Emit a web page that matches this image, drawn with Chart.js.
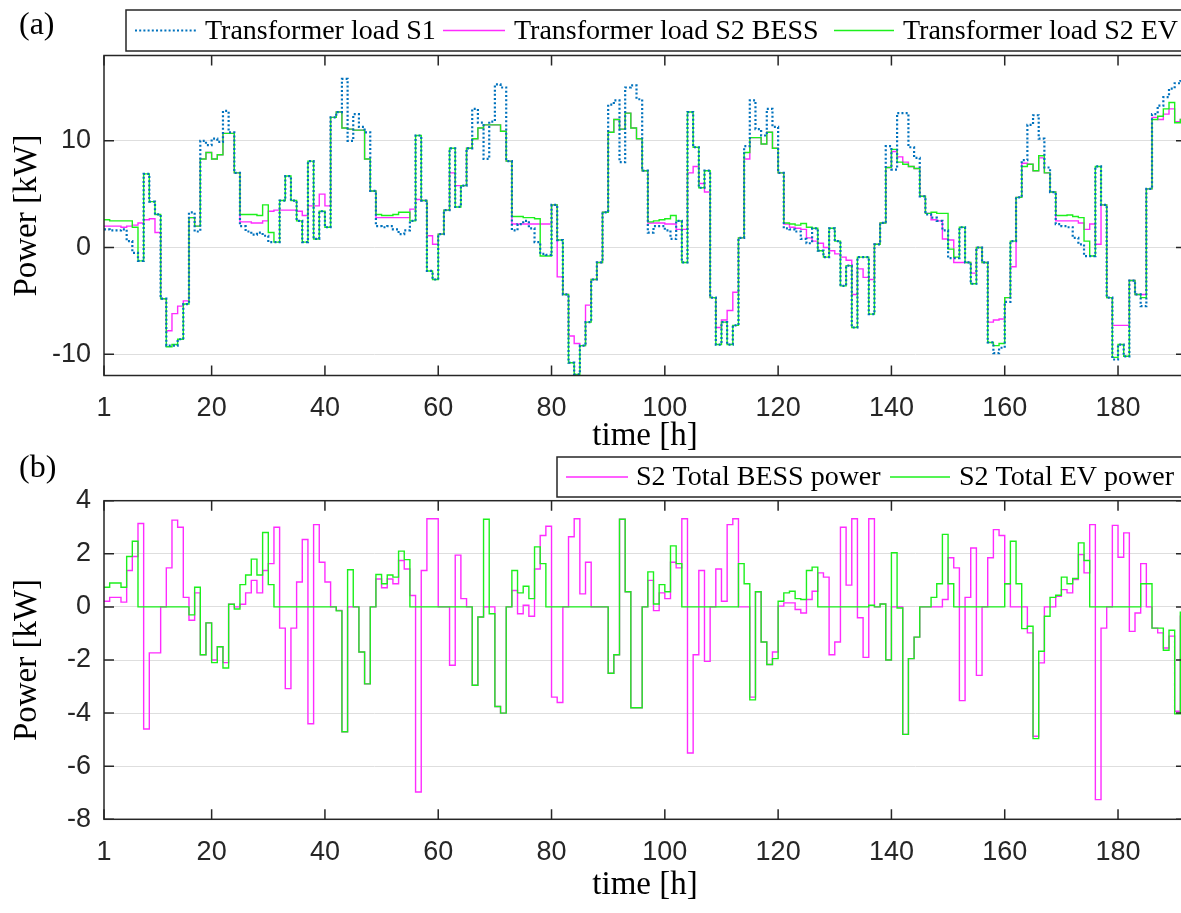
<!DOCTYPE html>
<html><head><meta charset="utf-8">
<script src="https://cdn.jsdelivr.net/npm/chart.js@4.4.1/dist/chart.umd.min.js"></script>
<style>
html,body{margin:0;padding:0;background:#fff;overflow:hidden;width:1181px;height:913px;}
#wa{position:absolute;left:0;top:0;width:1190px;height:456px;}
#wb{position:absolute;left:0;top:440px;width:1190px;height:473px;}
canvas{display:block;}
</style></head><body>
<div id="wa"><canvas id="ca" width="1190" height="456"></canvas></div>
<div id="wb"><canvas id="cb" width="1190" height="473"></canvas></div>
<script>
// ---------- data (hourly values, hour 1..192) ----------
const xTickValues = [1,20,40,60,80,100,120,140,160,180];
const yTicksA = [-10,0,10];
const yTicksB = [-8,-6,-4,-2,0,2,4];

const loadS1 = [
 1.7,1.6,1.6,1.7,0.6,-0.5,-1.25,6.9,4.3,3.1,
 -4.8,-9.2,-9.2,-8.6,-5.3,3.3,1.5,10.0,9.6,10.2,
 9.9,12.8,10.8,7.0,2.0,1.5,1.2,1.4,1.1,0.5,
 0.5,4.4,6.7,4.4,2.5,0.5,8.1,0.8,3.4,1.9,
 12.2,12.7,15.8,10.0,12.5,11.3,10.8,5.3,2.0,1.9,
 2.0,1.7,1.25,1.6,2.5,10.5,4.4,-2.2,-3.0,1.25,
 3.5,9.3,3.8,5.8,9.3,13.0,11.7,8.3,11.8,15.3,
 15.0,8.1,1.6,2.2,2.5,1.8,0.5,-0.6,-0.7,4.0,
 0.7,-4.4,-10.8,-11.9,-9.2,-7.0,-3.0,-1.4,3.3,13.4,
 13.8,8.0,15.0,15.2,13.9,7.2,1.4,2.0,2.0,1.6,
 0.8,2.5,-1.4,12.7,9.4,5.6,7.2,-4.7,-9.1,-7.0,
 -9.1,-7.3,0.9,9.5,13.8,11.1,10.5,13.0,11.3,7.0,
 1.8,1.7,1.5,0.8,0.4,1.8,-0.3,-0.9,1.8,0.6,
 -3.6,-1.7,-7.5,-0.9,-0.9,-6.25,0.3,2.3,9.5,7.3,
 12.6,12.6,9.4,8.4,4.8,3.1,2.8,2.5,1.6,-1.0,
 -1.0,1.9,-1.4,-3.4,0.0,-1.4,-8.9,-9.9,-9.4,-5.1,
 0.6,4.7,8.2,11.5,12.4,10.2,7.5,5.2,2.2,2.0,
 1.9,0.9,0.3,-0.8,-0.8,7.6,4.0,-4.7,-10.5,-9.1,
 -10.2,-3.1,-4.4,-5.5,5.5,12.5,13.3,14.1,14.9,15.4,
 15.6,15.6
];
const loadS2BESS = [
 2.0,2.0,2.0,1.9,2.0,2.1,2.3,2.6,2.7,1.4,
 -4.8,-7.8,-6.2,-5.5,-5.0,2.8,2.0,8.3,8.9,8.3,
 8.7,10.7,10.7,7.0,2.4,2.4,2.3,2.3,2.5,3.4,
 3.5,3.5,3.5,3.5,3.4,3.0,3.9,3.9,5.0,3.9,
 12.2,12.7,11.2,11.1,11.0,11.0,8.3,5.3,2.8,2.8,
 2.8,2.8,2.8,2.8,3.6,4.5,4.4,1.1,0.3,1.25,
 3.5,7.0,5.8,5.8,9.3,10.2,11.2,11.5,11.5,11.5,
 10.9,8.1,2.2,2.2,2.2,2.2,2.2,2.2,2.2,4.0,
 -2.75,-4.4,-8.3,-9.0,-9.2,-5.4,-3.0,-1.4,3.3,10.8,
 12.0,11.1,12.6,11.2,10.2,7.2,2.3,2.3,2.3,2.2,
 2.2,1.7,1.7,7.0,7.6,6.0,5.2,-4.7,-7.5,-6.8,
 -5.9,-4.2,0.9,8.3,10.3,10.3,9.7,10.8,9.3,7.0,
 2.2,1.9,1.8,1.7,0.9,0.6,0.4,0.0,-0.3,-0.6,
 -0.9,-1.2,-4.4,-2.0,-2.8,-3.0,0.3,2.3,7.5,9.0,
 8.5,8.0,7.6,7.4,4.8,3.2,2.6,2.5,0.8,0.7,
 -1.4,-1.4,-1.4,-2.4,0.0,-1.4,-7.0,-6.8,-6.7,-4.7,
 -1.8,4.7,7.9,7.8,7.2,8.4,7.0,5.2,2.5,2.5,
 2.5,2.5,2.3,1.7,2.2,0.3,4.0,-4.7,-7.3,-7.3,
 -7.3,-3.1,-4.4,-4.4,5.5,12.2,12.0,12.5,13.0,11.8,
 12.0,12.0
];
const loadS2EV = [
 2.6,2.5,2.5,2.5,2.5,1.9,-1.25,6.9,4.3,3.1,
 -4.8,-9.3,-9.1,-8.6,-5.3,2.8,2.0,8.3,8.9,8.3,
 8.7,10.7,10.7,7.0,3.1,3.1,3.1,3.0,4.0,1.4,
 0.5,4.4,6.7,4.4,2.5,0.5,8.1,0.8,3.4,1.9,
 12.2,12.7,11.2,11.1,11.0,11.0,8.3,5.3,3.1,3.0,
 3.0,3.1,3.3,3.3,2.5,10.5,4.4,-2.2,-3.0,1.25,
 3.5,9.3,3.8,5.8,9.3,10.2,11.2,11.5,11.5,11.5,
 10.9,8.1,2.9,2.9,2.8,2.8,2.7,-0.8,-0.8,4.0,
 0.7,-4.4,-10.8,-11.9,-9.2,-7.0,-3.0,-1.4,3.3,10.8,
 12.0,11.1,12.6,11.2,10.2,7.2,2.4,2.5,2.6,2.7,
 3.0,2.5,-1.4,12.7,9.4,5.6,7.2,-4.7,-9.1,-7.0,
 -9.1,-7.3,0.9,8.9,10.3,10.3,9.7,10.8,9.3,7.0,
 2.3,2.2,2.1,2.25,1.9,1.8,-0.3,-0.9,1.8,0.6,
 -3.6,-1.7,-7.5,-0.9,-0.9,-6.25,0.3,2.3,7.5,9.2,
 8.0,7.8,7.6,7.4,4.8,3.2,3.3,3.2,3.2,-0.15,
 -0.9,1.9,-1.4,-3.4,0.0,-1.4,-8.9,-9.2,-9.0,-4.7,
 0.6,4.7,7.6,7.8,7.2,8.6,7.0,5.2,3.0,3.0,
 3.05,2.9,2.8,0.6,-0.8,7.6,4.0,-4.7,-10.3,-9.1,
 -10.2,-3.1,-4.4,-4.7,5.5,12.0,12.3,13.0,13.6,11.7,
 12.0,12.0
];
const bessPower = [
 0.21,0.36,0.36,0.18,1.37,1.9,3.14,-4.6,-1.73,-1.73,
 0,1.47,3.27,3.0,0.36,-0.5,0.53,-1.8,-0.6,-2.0,
 -1.5,-2.1,0.1,0,0.1,0.53,1.0,0.53,1.37,1.63,
 3.0,-0.8,-3.08,-0.8,0.94,2.54,-4.4,3.1,1.68,0.94,
 0,-0.13,-4.7,0,0,-1.7,-2.9,0,1.05,0.72,
 1.05,0.87,1.75,1.43,0.43,-6.97,1.37,3.32,3.32,0,
 0,-2.2,1.95,0.31,0,-2.95,-0.38,0,0,-3.75,
 -4.0,0,0.62,-0.26,0.06,-0.35,1.43,2.69,3.04,-3.4,
 -3.6,0,2.64,3.32,0.49,1.68,0,0,0,-2.5,
 -1.8,3.3,0.57,-3.8,-3.8,0,1.0,-0.14,0.53,0.31,
 1.68,1.47,3.32,-5.5,-1.8,1.37,-2.05,0,1.43,0.21,
 3.1,3.32,0,0,-3.4,0.57,-1.32,-2.17,-1.7,0.03,
 0.15,0.15,-0.1,-0.23,0.28,0.59,1.28,1.12,-1.8,-1.32,
 3.0,0.82,3.32,-0.41,-1.9,3.32,0,0.11,-2.0,0,
 0,-4.8,-1.95,-1.14,0,0,0,0,0.28,1.85,
 1.47,-3.53,0.36,2.22,-2.58,0,1.85,2.91,2.69,0.87,
 0,0,0,-0.98,-4.87,-2.11,0,0,0.4,0.65,
 0.53,1.03,1.97,1.28,3.1,-7.26,-0.8,0,3.07,1.87,
 2.79,-0.92,-0.23,1.63,0,-0.8,-0.98,-1.55,-1.1,-3.93,
 -0.35,-0.35
];
const evPower = [
 0.74,0.9,0.9,0.74,1.9,2.47,0,0,0,0,
 0,0,0,0,0,-0.3,0.74,-1.8,-0.6,-2.1,
 -1.5,-2.3,0.1,-0.08,0.84,1.2,1.8,1.2,2.8,0.84,
 0,0,0,0,0,0,0,0,0,0,
 0,-0.15,-4.7,1.4,0,-1.7,-2.9,0,1.22,0.87,
 1.2,1.12,2.1,1.78,0,0,0,0,0,0,
 0,0,0,0,0,-2.95,-0.38,3.3,-0.26,-3.75,
 -4.0,0,1.37,0.53,0.78,0.31,2.26,1.63,0,0,
 0,0,0,0,0,0,0,0,0,-2.5,
 -1.8,3.3,0.57,-3.8,-3.8,0,1.32,0.11,0.84,0.57,
 2.3,1.63,0,0,0,0,0,0,0,0,
 0,0,1.63,0.87,-3.5,0.57,-1.32,-2.17,-1.95,0.21,
 0.53,0.59,0.31,0.28,1.37,1.5,0,0,0,0,
 0,0,0,0,0,0.06,0,0.11,-2.0,2.04,
 -0.04,-4.8,-1.95,-1.14,0,0,0.36,0.87,2.73,0.87,
 0,0,0,0,0,0,0,0,0,0.87,
 2.47,0.87,-0.82,-0.73,-4.96,-1.67,-0.35,0.36,0.44,1.12,
 0.87,1.07,2.41,1.75,0,0,0,0,0,0,
 0,0,0,0.87,0.87,-0.8,-0.8,-1.63,-0.88,-4.03,
 -0.2,-0.2
];

// ---------- styling ----------
const BLUE = '#0072BD', MAG = '#ff2bff', GRN = '#1cf01c';
const AX = '#262626';
const TICKFONT = {family:'Liberation Sans', size:27};
const TITLEFONT = {family:'Liberation Serif', size:33};
const LEGFONT = '28px "Liberation Serif"';

function pts(arr){ return arr.map((v,i)=>({x:i+1, y:v})); }

const frame = {
  id:'frame',
  afterDatasetsDraw(chart){
    const {ctx, chartArea:{left,right,top,bottom}} = chart;
    const xs = chart.scales.x, ys = chart.scales.y;
    ctx.save();
    ctx.strokeStyle = AX; ctx.lineWidth = 1.5;
    ctx.beginPath();
    xs.ticks.forEach(t=>{ const p = xs.getPixelForValue(t.value);
      ctx.moveTo(p,bottom); ctx.lineTo(p,bottom-10);
      ctx.moveTo(p,top); ctx.lineTo(p,top+10); });
    ys.ticks.forEach(t=>{ const p = ys.getPixelForValue(t.value);
      ctx.moveTo(left,p); ctx.lineTo(left+10,p);
      ctx.moveTo(right,p); ctx.lineTo(right-10,p); });
    ctx.stroke();
    ctx.strokeRect(left,top,right-left,bottom-top);
    ctx.restore();
  },
  afterDraw(chart, args, o){
    if(!o || !o.box) return;
    const ctx = chart.ctx;
    ctx.save();
    ctx.fillStyle = '#000';
    ctx.font = '32px "Liberation Serif"';
    ctx.textBaseline = 'middle'; ctx.textAlign = 'left';
    ctx.fillText(o.label, o.labelPos[0], o.labelPos[1]);
    const [bx,by,bw,bh] = o.box;
    ctx.fillStyle = '#fff';
    ctx.fillRect(bx,by,bw,bh);
    ctx.strokeStyle = AX; ctx.lineWidth = 1.5;
    ctx.strokeRect(bx,by,bw,bh);
    const cy = by + bh/2;
    ctx.font = LEGFONT;
    o.items.forEach(it=>{
      const ds = chart.data.datasets[it.ds];
      ctx.beginPath();
      ctx.strokeStyle = ds.borderColor;
      ctx.lineWidth = ds.borderWidth;
      ctx.setLineDash(ds.borderDash || []);
      ctx.moveTo(it.x1, cy); ctx.lineTo(it.x2, cy);
      ctx.stroke();
      ctx.setLineDash([]);
      ctx.fillStyle = '#000';
      ctx.fillText(ds.label, it.tx, cy + 1);
    });
    ctx.restore();
  }
};

function makeOptions(cfg){
  return {
    responsive:false, animation:false, devicePixelRatio:1,
    layout:{padding:{left:0, right:4, top:cfg.top, bottom:0}},
    plugins:{legend:{display:false}, tooltip:{enabled:false}, frame:cfg.frame},
    elements:{point:{radius:0}, line:{tension:0}},
    scales:{
      x:{type:'linear', min:1, max:192,
        afterFit(s){ s.height = cfg.xh; },
        afterBuildTicks(s){ s.ticks = xTickValues.map(v=>({value:v})); },
        ticks:{font:TICKFONT, color:AX, padding:17, maxRotation:0, autoSkip:false, callback:v=>String(v)},
        grid:{display:false, drawTicks:false}, border:{display:false},
        title:{display:true, text:'time [h]', font:TITLEFONT, color:'#000', padding:{top:0,bottom:cfg.xtp}}
      },
      y:{type:'linear', min:cfg.ymin, max:cfg.ymax,
        afterFit(s){ s.width = 104; },
        afterBuildTicks(s){ s.ticks = cfg.yt.map(v=>({value:v})); },
        ticks:{font:TICKFONT, color:AX, padding:13, callback:v=>String(v)},
        grid:{color:'#dedede', lineWidth:1, drawTicks:false}, border:{display:false},
        title:{display:true, text:'Power [kW]', font:TITLEFONT, color:'#000', padding:{top:8,bottom:0}}
      }
    }
  };
}

new Chart(document.getElementById('ca'), {
  type:'line',
  data:{datasets:[
    {label:'Transformer load S1', data:pts(loadS1), borderColor:BLUE, borderWidth:2.2, borderDash:[2,2.2], stepped:true, order:0},
    {label:'Transformer load S2 BESS', data:pts(loadS2BESS), borderColor:MAG, borderWidth:1.4, stepped:true, order:2},
    {label:'Transformer load S2 EV', data:pts(loadS2EV), borderColor:GRN, borderWidth:1.4, stepped:true, order:1}
  ]},
  options:makeOptions({top:55.5, xh:456-375.5, xtp:0, ymin:-12, ymax:18, yt:yTicksA,
    frame:{label:'(a)', labelPos:[19,26], box:[126,10,1100,41],
      items:[{ds:0,x1:135,x2:196,tx:205},{ds:1,x1:443,x2:505,tx:514},{ds:2,x1:834,x2:894,tx:903}]}}),
  plugins:[frame]
});

new Chart(document.getElementById('cb'), {
  type:'line',
  data:{datasets:[
    {label:'S2 Total BESS power', data:pts(bessPower), borderColor:MAG, borderWidth:1.4, stepped:true, order:2},
    {label:'S2 Total EV power', data:pts(evPower), borderColor:GRN, borderWidth:1.4, stepped:true, order:1}
  ]},
  options:makeOptions({top:60.7, xh:473-379.3, xtp:8, ymin:-8, ymax:4, yt:yTicksB,
    frame:{label:'(b)', labelPos:[19,29], box:[557,17,700,40],
      items:[{ds:0,x1:566,x2:628,tx:636},{ds:1,x1:890,x2:950,tx:959}]}}),
  plugins:[frame]
});
</script>
</body></html>
